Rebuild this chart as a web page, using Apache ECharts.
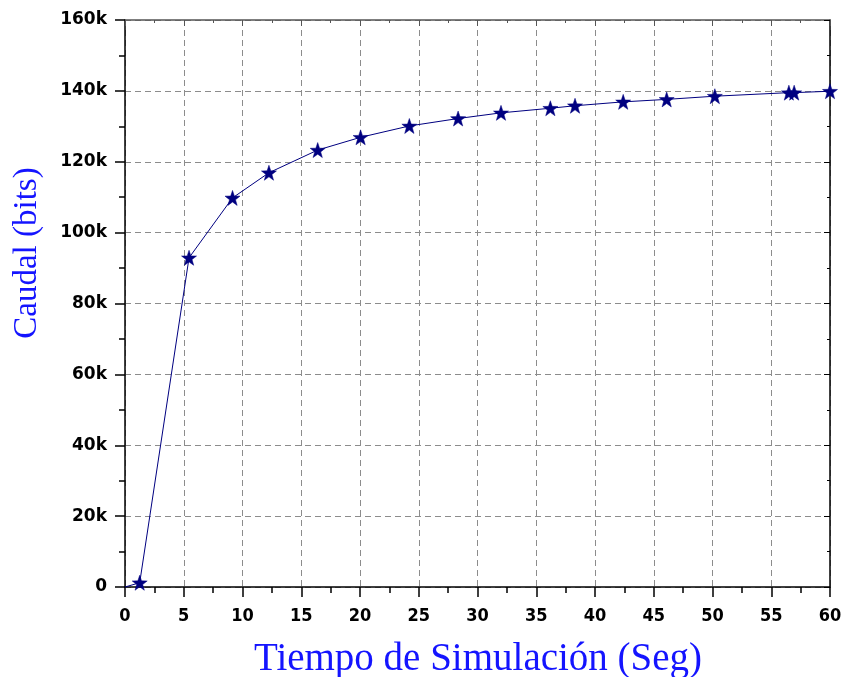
<!DOCTYPE html>
<html>
<head>
<meta charset="utf-8">
<script src="https://cdn.jsdelivr.net/npm/echarts@6/dist/echarts.min.js"></script>
<style>
  html, body { margin: 0; padding: 0; background: #fff; }
  #chart { width: 845px; height: 677px; }
</style>
</head>
<body>
<div id="chart"></div>
<script>
// Simulation time (s) and throughput (bits)
const tiempo = [0, 1.25, 5.45, 9.15, 12.25, 16.4, 20.05, 24.2, 28.35, 32.0, 36.2, 38.3, 42.4, 46.1, 50.2, 56.5, 56.95, 60];
const caudal = [0, 1200, 92900, 109800, 116900, 123300, 126900, 130100, 132200, 133800, 135100, 135800, 136900, 137600, 138500, 139500, 139500, 139900];

const xTitle = 'Tiempo de Simulación (Seg)';
const yTitle = 'Caudal (bits)';

const STAR = 'path://M0,-10L2.35,-3.24L9.51,-3.09L3.8,1.24L5.88,8.09L0,4L-5.88,8.09L-3.8,1.24L-9.51,-3.09L-2.35,-3.24Z';
const NAVY = '#000080';

const points = tiempo.map((t, i) => {
  const p = { value: [t, caudal[i]] };
  if (i === 0) p.symbol = 'none';
  return p;
});

const grid = { left: 125, right: 15, top: 20, bottom: 90 };
const dash = { type: [6, 4], color: '#8c8c8c', width: 1 };
const axisLine = { show: true, onZero: false, lineStyle: { color: '#000', width: 1.5 } };

const chart = echarts.init(document.getElementById('chart'), null, { renderer: 'canvas' });
chart.setOption({
  animation: false,
  backgroundColor: '#fff',
  grid: grid,
  xAxis: [{
    type: 'value', min: 0, max: 60, interval: 5,
    axisLine: axisLine,
    axisTick: { show: true, length: 10, lineStyle: { color: '#000', width: 1.5 } },
    minorTick: { show: true, splitNumber: 2, length: 6, lineStyle: { color: '#000', width: 1.5 } },
    splitLine: { show: true, lineStyle: dash },
    axisLabel: {
      margin: 20, color: '#000', fontWeight: 'bold', fontSize: 18,
      fontFamily: '"Liberation Sans Narrow", "DejaVu Sans Condensed", "Liberation Sans", sans-serif'
    }
  }, {
    type: 'value', min: 0, max: 60, interval: 5, position: 'top',
    axisLine: { show: true, onZero: false, lineStyle: { color: '#555', width: 1.5 } },
    axisTick: { show: true, inside: true, length: 6, lineStyle: { color: '#555' } },
    minorTick: { show: true, splitNumber: 2, length: 3, lineStyle: { color: '#555' } },
    splitLine: { show: false },
    axisLabel: { show: false }
  }],
  yAxis: [{
    type: 'value', min: 0, max: 160000, interval: 20000,
    axisLine: axisLine,
    axisTick: { show: true, length: 10, lineStyle: { color: '#000', width: 1.5 } },
    minorTick: { show: true, splitNumber: 2, length: 6, lineStyle: { color: '#000', width: 1.5 } },
    splitLine: { show: true, lineStyle: dash },
    axisLabel: {
      margin: 18, color: '#000', fontWeight: 'bold', fontSize: 17,
      fontFamily: '"DejaVu Sans", Verdana, sans-serif',
      formatter: v => v === 0 ? '0' : (v / 1000) + 'k'
    }
  }, {
    type: 'value', min: 0, max: 160000, interval: 20000, position: 'right',
    axisLine: { show: true, onZero: false, lineStyle: { color: '#000', width: 1.5 } },
    axisTick: { show: true, inside: true, length: 6, lineStyle: { color: '#000' } },
    minorTick: { show: true, splitNumber: 2, length: 3, lineStyle: { color: '#000' } },
    splitLine: { show: false },
    axisLabel: { show: false }
  }],
  graphic: [{
    type: 'text',
    x: 478, y: 660,
    style: {
      text: xTitle, fill: '#1414ff',
      font: '39px "Liberation Serif", "Times New Roman", serif',
      textAlign: 'center', textVerticalAlign: 'middle'
    }
  }, {
    type: 'text',
    x: 27, y: 253, rotation: Math.PI / 2,
    style: {
      text: yTitle, fill: '#1414ff',
      font: '33px "Liberation Serif", "Times New Roman", serif',
      textAlign: 'center', textVerticalAlign: 'middle'
    }
  }],
  series: [{
    type: 'line',
    data: points,
    symbol: STAR,
    symbolSize: 15,
    showAllSymbol: true,
    lineStyle: { color: NAVY, width: 1 },
    itemStyle: { color: NAVY, borderColor: NAVY, borderWidth: 0.5 },
    clip: false,
    z: 5
  }]
});
</script>
</body>
</html>
